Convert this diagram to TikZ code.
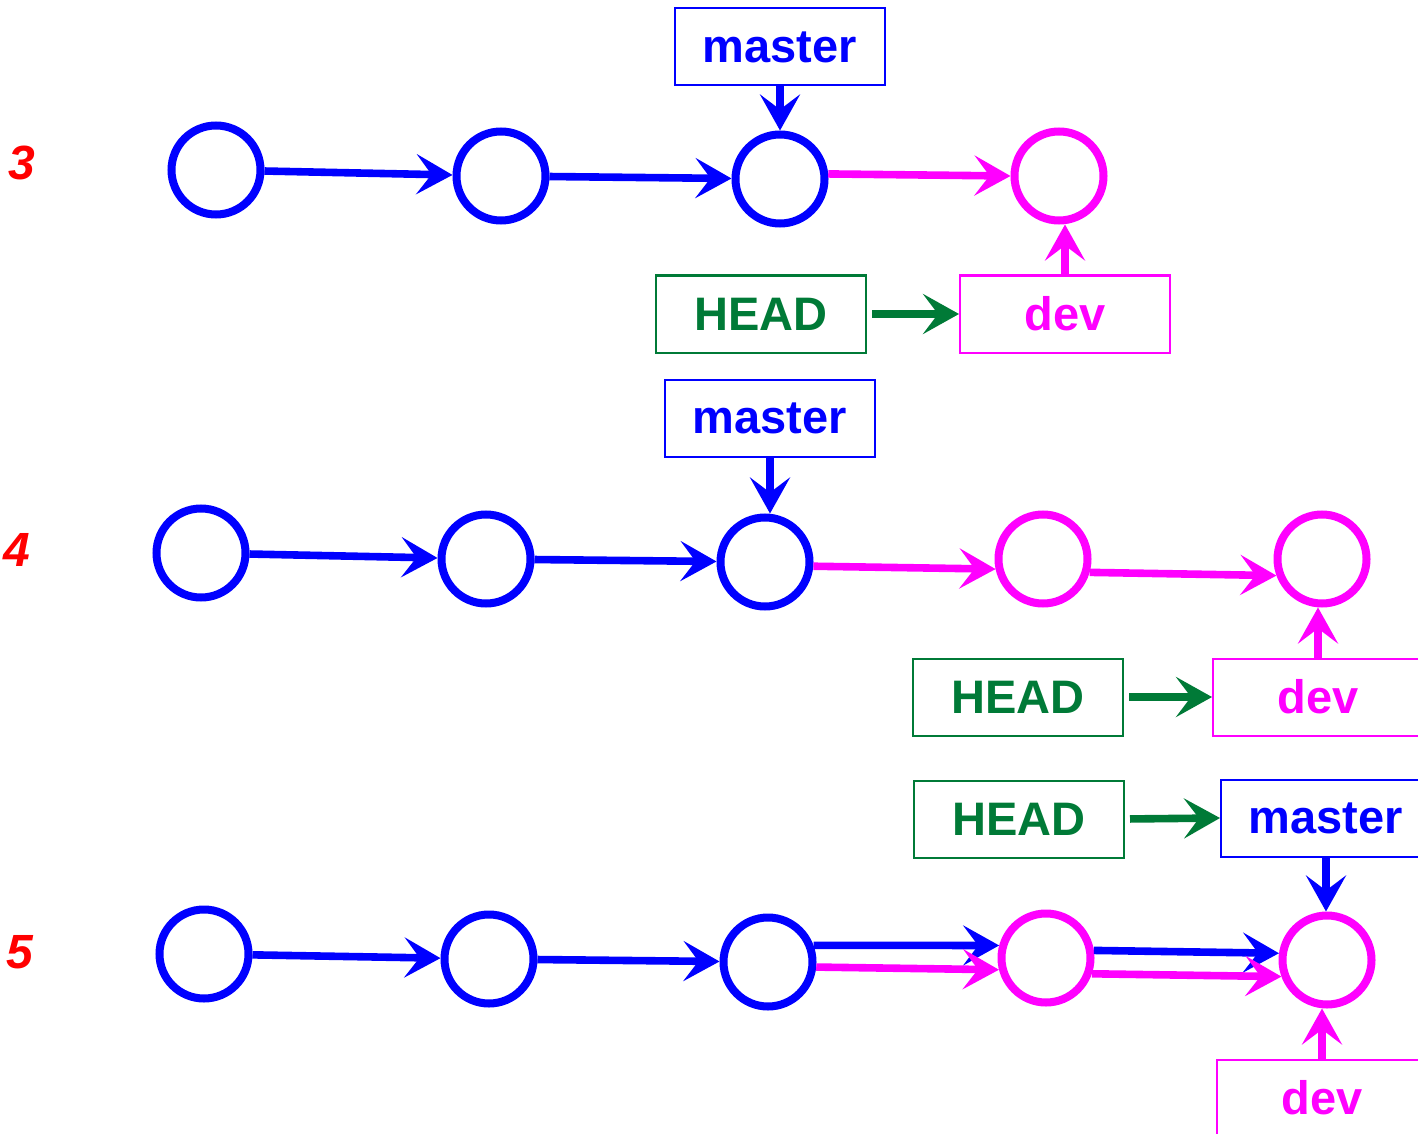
\documentclass[tikz,border=0pt]{standalone}
\usepackage{fontspec}
\setmainfont{Liberation Sans}
\usetikzlibrary{arrows.meta}
\definecolor{gblue}{RGB}{0,0,255}
\definecolor{gmag}{RGB}{255,0,255}
\definecolor{ggreen}{RGB}{0,122,55}
\definecolor{gred}{RGB}{255,0,0}
\tikzset{
  commit/.style={circle,draw=#1,line width=4pt,minimum size=44.5pt,inner sep=0pt},
  lbl/.style={rectangle,draw=#1,text=#1,line width=1pt,minimum width=105pt,minimum height=38.5pt,inner sep=0pt,font=\bfseries\fontsize{23.5}{28}\selectfont},
  conn/.style={draw=#1,line width=3.8pt,-{Stealth[length=18pt,width=20pt,inset=7.5pt]}},
  num/.style={text=gred,font=\bfseries\itshape\fontsize{24}{28}\selectfont}
}
\begin{document}
\begin{tikzpicture}[x=0.5pt,y=-0.5pt]
\useasboundingbox (0,0) rectangle (1418,1134);
\clip (0,0) rectangle (1418,1134);
% row 3
\node[num] (n3) at (22,163) {3};
\node[commit=gblue] (c31) at (216,170) {};
\node[commit=gblue] (c32) at (501,176) {};
\node[commit=gblue] (c33) at (780,179) {};
\node[commit=gmag] (c34) at (1059,176) {};
\node[lbl=gblue] (m3) at (780,47) {master};
\node[lbl=ggreen] (h3) at (761,314) {HEAD};
\node[lbl=gmag] (d3) at (1065,314) {dev};
\draw[conn=gblue] (c31) -- (c32);
\draw[conn=gblue] (c32) -- (c33);
\draw[conn=gmag] (c33.6) -- (c34.180);
\draw[conn=gblue] (m3.south) -- (c33.north);
\draw[conn=ggreen,shorten <=2.5pt] (h3.east) -- (d3.west);
\draw[conn=gmag] (d3.north) -- (d3.north |- c34.south);
% row 4
\node[num] (n4) at (17,550) {4};
\node[commit=gblue] (c41) at (201,553) {};
\node[commit=gblue] (c42) at (486,559) {};
\node[commit=gblue] (c43) at (765,562) {};
\node[commit=gmag] (c44) at (1043,559) {};
\node[commit=gmag] (c45) at (1322,559) {};
\node[lbl=gblue] (m4) at (770,418) {master};
\node[lbl=ggreen] (h4) at (1018,697) {HEAD};
\node[lbl=gmag] (d4) at (1318,697) {dev};
\draw[conn=gblue] (c41) -- (c42);
\draw[conn=gblue] (c42) -- (c43);
\draw[conn=gmag] (c43.-5) -- (c44.192);
\draw[conn=gmag] (c44.-16) -- (c45.200);
\draw[conn=gblue] (m4.south) -- (m4.south |- c43.north);
\draw[conn=ggreen,shorten <=2.5pt] (h4.east) -- (d4.west);
\draw[conn=gmag] (d4.north) -- (d4.north |- c45.south);
% row 5
\node[num] (n5) at (20,952) {5};
\node[commit=gblue] (c51) at (204,954) {};
\node[commit=gblue] (c52) at (489,959) {};
\node[commit=gblue] (c53) at (768,962) {};
\node[commit=gmag] (c54) at (1046,958) {};
\node[commit=gmag] (c55) at (1327,960) {};
\node[lbl=ggreen] (h5) at (1019,819) {HEAD};
\node[lbl=gblue] (m5) at (1326,818) {master};
\node[lbl=gmag] (d5) at (1322,1098) {dev};
\draw[conn=gblue] (c51) -- (c52);
\draw[conn=gblue] (c52) -- (c53);
\draw[conn=gblue] (c53.20) -- (c54.165);
\draw[conn=gmag] (c53.-6) -- (c54.194);
\draw[conn=gblue] (c54.9) -- (c55.172);
\draw[conn=gmag] (c54.-19) -- (c55.200);
\draw[conn=ggreen,shorten <=2.5pt] (h5.east) -- (m5.west);
\draw[conn=gblue] (m5.south) -- (m5.south |- c55.north);
\draw[conn=gmag] (d5.north) -- (d5.north |- c55.south);
\end{tikzpicture}
\end{document}
